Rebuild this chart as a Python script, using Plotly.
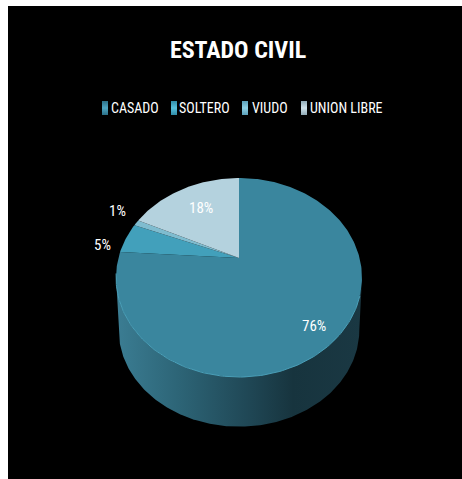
import numpy as np
import plotly.graph_objects as go

# Survey breakdown by marital status
categories = ["CASADO", "SOLTERO", "VIUDO", "UNION LIBRE"]
values = [76, 5, 1, 18]
slice_colors = ["#3a869e", "#42a0bb", "#7fbccf", "#b4d2de"]
swatch_dark = ["#2a6f87", "#2f8ba8", "#5a9fb8", "#8fa9b5"]
swatch_light = ["#4fa6c2", "#58c0dc", "#8fd0e4", "#d0e2ea"]

FONT = "Roboto Condensed, Open Sans Condensed, DejaVu Sans Condensed, Lato"
WIDTH, HEIGHT = 462, 479


def project(angle, cx, cy, sx, sy, k):
    """Project a clockwise-from-north disc angle onto the tilted perspective plane."""
    x_disc, y_disc = np.sin(angle), np.cos(angle)
    w = 1 + k * y_disc
    return cx + sx * x_disc / w, cy - sy * y_disc / w


def front_arc(disc):
    """Points of a disc's rim between its rightmost and leftmost extremes, via the front."""
    start = np.arccos(-disc["k"])
    return project(np.linspace(start, 2 * np.pi - start, 240), **disc)


TOP = dict(cx=239, cy=258, sx=120.6, sy=95.7, k=0.196)
BASE = dict(cx=239, cy=311, sx=118, sy=93, k=0.196)

fig = go.Figure()

# Panel behind the pie, leaving a thin white margin on the top and left
fig.add_shape(type="rect", x0=8, y0=6, x1=WIDTH, y1=HEIGHT, fillcolor="#000000",
              line_width=0, layer="below")

# Curved outer wall of the cylinder, shaded left to right
tx, ty = front_arc(TOP)
bx, by = front_arc(BASE)
fig.add_trace(go.Scatter(
    x=np.r_[tx, bx[::-1]], y=np.r_[ty, by[::-1]],
    mode="lines", line_width=0, fill="toself", hoverinfo="skip", showlegend=False,
    fillgradient=dict(type="horizontal", colorscale=[
        [0.0, "#3b7d93"], [0.25, "#2d6577"], [0.55, "#1f4654"],
        [0.72, "#17343e"], [1.0, "#1a3843"]]),
))

# Top face wedges, sized from the percentages
fractions = np.array(values) / sum(values)
edges = np.r_[0, np.cumsum(fractions)] * 2 * np.pi
for name, start, stop, color in zip(categories, edges[:-1], edges[1:], slice_colors):
    theta = np.linspace(start, stop, max(int((stop - start) * 60), 4))
    ax, ay = project(theta, **TOP)
    fig.add_trace(go.Scatter(
        x=np.r_[TOP["cx"], ax, TOP["cx"]], y=np.r_[TOP["cy"], ay, TOP["cy"]],
        mode="lines", line_width=0, fill="toself", fillcolor=color,
        name=name, showlegend=False, hoverinfo="name",
    ))

# Thin highlight along the front rim
rim = np.linspace(np.pi * 0.62, np.pi * 1.45, 120)
rx, ry = project(rim, **TOP)
fig.add_trace(go.Scatter(x=rx, y=ry, mode="lines", showlegend=False, hoverinfo="skip",
                         line=dict(color="#4a9fb8", width=1)))

# Percentage labels placed from each wedge's mid angle
mids = (edges[:-1] + edges[1:]) / 2
label_offsets = [(0, 5), (-45, 3), (-38, -18), (8, 7)]
for val, mid, (dx, dy) in zip(values, mids, label_offsets):
    lx, ly = project(mid, TOP["cx"], TOP["cy"], TOP["sx"] * 0.8, TOP["sy"] * 0.8, TOP["k"] * 0.8)
    fig.add_annotation(x=lx + dx, y=ly + dy, text=f"{val}%", showarrow=False,
                       font=dict(family=FONT, size=15, color="#ffffff"))

# Legend row: a small shaded swatch followed by the category name
swatch_x = [102, 171, 242, 301]
name_centers = [134.5, 204.5, 270, 346]
for name, left, center, dark, light in zip(categories, swatch_x, name_centers, swatch_dark, swatch_light):
    fig.add_trace(go.Scatter(
        x=[left, left + 6, left + 6, left, left], y=[101, 101, 115, 115, 101],
        mode="lines", line_width=0, fill="toself", showlegend=False, hoverinfo="skip",
        fillgradient=dict(type="vertical", colorscale=[[0, dark], [0.5, light], [1, dark]]),
    ))
    fig.add_annotation(x=center, y=108, text=name, showarrow=False, xanchor="center",
                       font=dict(family=FONT, size=14, color="#ffffff"))

fig.update_layout(
    width=WIDTH, height=HEIGHT, margin=dict(l=0, r=0, t=0, b=0),
    paper_bgcolor="#ffffff", plot_bgcolor="#ffffff", showlegend=False,
    xaxis=dict(range=[0, WIDTH], visible=False, domain=[0, 1]),
    yaxis=dict(range=[HEIGHT, 0], visible=False, domain=[0, 1]),
    title=dict(text="<b>ESTADO CIVIL</b>", x=238 / WIDTH, xanchor="center",
               y=1 - 50 / HEIGHT, yanchor="middle",
               font=dict(family=FONT, size=24, color="#ffffff")),
)

fig.write_html("out.html", config=dict(displayModeBar=False))
